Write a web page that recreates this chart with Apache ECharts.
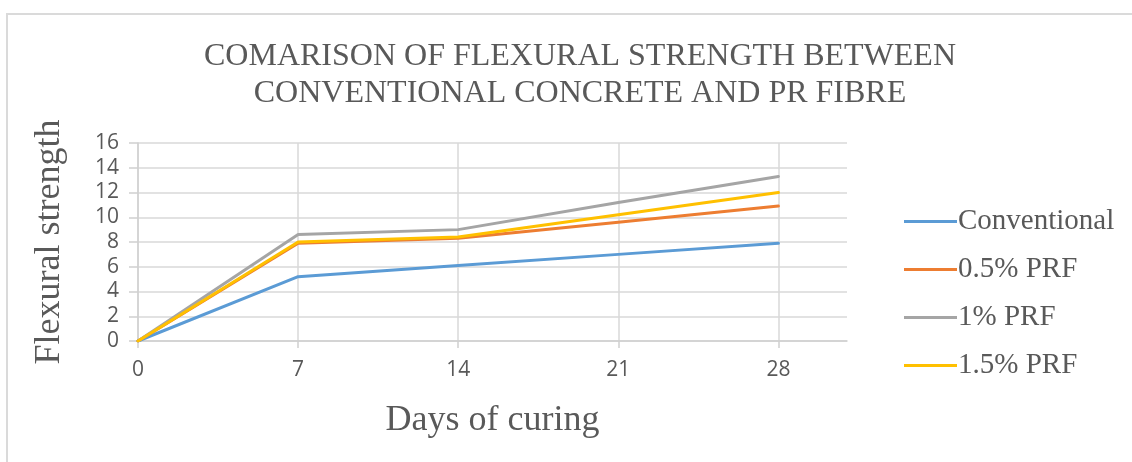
<!DOCTYPE html>
<html>
<head>
<meta charset="utf-8">
<script src="https://cdn.jsdelivr.net/npm/echarts@6/dist/echarts.min.js"></script>
<style>
  html, body { margin: 0; padding: 0; background: #ffffff; }
  #chart { width: 1132px; height: 462px; }
</style>
</head>
<body>
<div id="chart"></div>
<script>
// Curing age in days (x positions of every series)
const days = [0, 7, 14, 21, 28];
const dayTicks = [0, 7, 14, 21, 28];

// Flexural strength per mix
const conventional = [0, 5.2, 6.1, 7.0, 7.9];
const prf05 = [0, 7.9, 8.3, 9.6, 10.9];
const prf1 = [0, 8.6, 9.0, 11.2, 13.3];
const prf15 = [0, 8.0, 8.4, 10.2, 12.0];

const seriesNames = ['Conventional', '0.5% PRF', '1% PRF', '1.5% PRF'];
const seriesColors = ['#5B9BD5', '#ED7D31', '#A5A5A5', '#FFC000'];
const seriesValues = [conventional, prf05, prf1, prf15];

const textGray = '#595959';
const gridGray = '#d9d9d9';
const serif = '"Liberation Serif", "DejaVu Serif", serif';
const sans = '"Open Sans", "Liberation Sans", sans-serif';

const chart = echarts.init(document.getElementById('chart'));

chart.setOption({
  animation: false,
  backgroundColor: '#ffffff',
  graphic: [{
    type: 'rect',
    shape: { x: 7, y: 14, width: 1200, height: 500 },
    style: { fill: 'none', stroke: '#dadada', lineWidth: 2 },
    silent: true
  }],
  title: {
    text: 'COMARISON OF FLEXURAL STRENGTH BETWEEN\nCONVENTIONAL CONCRETE AND PR FIBRE',
    left: 575,
    textAlign: 'center',
    top: 33,
    textStyle: {
      fontFamily: serif,
      fontSize: 32,
      fontWeight: 'normal',
      color: textGray,
      lineHeight: 37
    }
  },
  legend: {
    orient: 'vertical',
    left: 899,
    top: 202,
    itemGap: 19,
    itemWidth: 53,
    itemHeight: 3,
    icon: 'rect',
    data: seriesNames,
    textStyle: {
      fontFamily: serif,
      fontSize: 29,
      color: textGray,
      padding: [0, 0, 0, -4]
    }
  },
  grid: {
    left: 138,
    right: 285,
    top: 143,
    bottom: 121,
    containLabel: false
  },
  xAxis: {
    type: 'value',
    min: 0,
    max: 31,
    interval: 7,
    name: 'Days of curing',
    nameLocation: 'middle',
    nameGap: 62,
    nameTextStyle: {
      fontFamily: serif,
      fontSize: 36,
      color: textGray
    },
    axisLine: { show: true, lineStyle: { color: '#d0d0d0', width: 1.5 } },
    axisTick: { show: true, length: 7, customValues: dayTicks, lineStyle: { color: '#d0d0d0', width: 1.5 } },
    axisLabel: {
      customValues: dayTicks,
      margin: 19,
      fontFamily: sans,
      fontSize: 21,
      color: textGray
    },
    splitLine: { show: true, lineStyle: { color: gridGray, width: 1.5 } }
  },
  yAxis: {
    type: 'value',
    min: 0,
    max: 16,
    interval: 2,
    name: 'Flexural strength',
    nameLocation: 'middle',
    nameGap: 70,
    nameTextStyle: {
      fontFamily: serif,
      fontSize: 36,
      color: textGray
    },
    axisLine: { show: true, lineStyle: { color: '#d0d0d0', width: 1.5 } },
    axisTick: { show: true, length: 9, lineStyle: { color: '#d0d0d0', width: 1.5 } },
    axisLabel: {
      margin: 19,
      fontFamily: sans,
      fontSize: 21,
      color: textGray
    },
    splitLine: { show: true, lineStyle: { color: gridGray, width: 1.5 } }
  },
  series: seriesNames.map((name, i) => ({
    name: name,
    type: 'line',
    data: days.map((d, j) => [d, seriesValues[i][j]]),
    showSymbol: false,
    symbol: 'none',
    color: seriesColors[i],
    lineStyle: { width: 3, color: seriesColors[i], cap: 'round', join: 'round' },
    emphasis: { disabled: true }
  }))
});
</script>
</body>
</html>
